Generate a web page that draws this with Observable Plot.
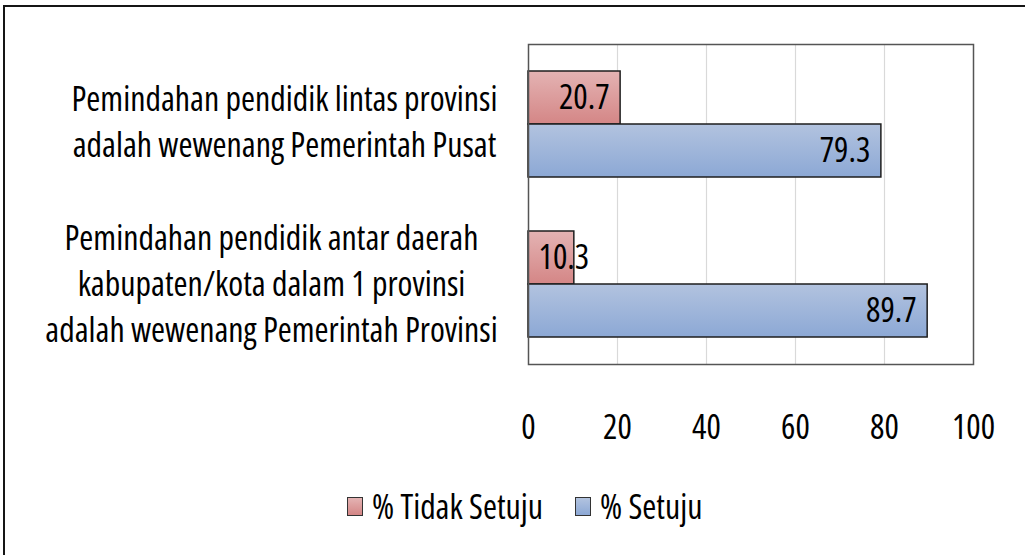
<!DOCTYPE html>
<html>
<head>
<meta charset="utf-8">
<script src="https://cdn.jsdelivr.net/npm/d3@7"></script>
<script src="https://cdn.jsdelivr.net/npm/@observablehq/plot@0.6"></script>
<style>
  html, body { margin: 0; padding: 0; background: #fff; }
  #wrap { position: relative; width: 1025px; height: 555px; overflow: hidden; background: #fff; }
  #border { position: absolute; left: 3px; top: 5px; width: 3000px; height: 3000px;
            border-left: 2px solid #151515; border-top: 2px solid #151515; }
  #chart { position: absolute; left: 0; top: 0; }
  #legend { position: absolute; top: 489px; left: 0; width: 1025px; height: 34px; }
  .item { position: absolute; top: 0; height: 34px; display: flex; align-items: center; color: #000; white-space: nowrap; }
  .sw { width: 16px; height: 19px; border: 1px solid #333; margin-right: 9px; box-sizing: border-box; flex: none; }
</style>
</head>
<body>
<svg width="0" height="0" style="position:absolute">
  <defs>
    <linearGradient id="gPink" x1="0" y1="0" x2="0" y2="1">
      <stop offset="0" stop-color="#E4B3B3"/>
      <stop offset="1" stop-color="#D48686"/>
    </linearGradient>
    <linearGradient id="gBlue" x1="0" y1="0" x2="0" y2="1">
      <stop offset="0" stop-color="#B2C3DF"/>
      <stop offset="1" stop-color="#8CA8D5"/>
    </linearGradient>
  </defs>
</svg>
<div id="wrap">
  <div id="border"></div>
  <div id="chart"></div>
  <div id="legend"></div>
</div>
<script>
const categories = [
  "Pemindahan pendidik lintas provinsi\nadalah wewenang Pemerintah Pusat",
  "Pemindahan pendidik antar daerah\nkabupaten/kota dalam 1 provinsi\nadalah wewenang Pemerintah Provinsi"
];
const series = ["% Tidak Setuju", "% Setuju"];
const tidakSetuju = [20.7, 10.3];
const setuju = [79.3, 89.7];
const xTicks = [0, 20, 40, 60, 80, 100];
const gridTicks = [20, 40, 60, 80];
const seriesFills = ["url(#gPink)", "url(#gBlue)"];

const data = [];
categories.forEach((c, i) => {
  data.push({category: c, series: series[0], value: tidakSetuju[i]});
  data.push({category: c, series: series[1], value: setuju[i]});
});
const fits = data.filter(d => d.value >= 15);
const small = data.filter(d => d.value < 15);

// pick a narrow font: Open Sans condensed if the installed face supports width, else Lato
const ctx = document.createElement("canvas").getContext("2d");
const sample = "Pemindahan pendidik lintas provinsi";
function measure(font, stretch) {
  ctx.font = font;
  try { ctx.fontStretch = stretch; } catch (e) {}
  return ctx.measureText(sample).width;
}
const wNormal = measure('32px "Open Sans"', "normal");
const wCond = measure('32px "Open Sans"', "condensed");
let FAMILY, STRETCH, w32;
if (wCond < 0.92 * wNormal) {
  FAMILY = '"Open Sans", sans-serif'; STRETCH = "condensed"; w32 = wCond;
} else {
  FAMILY = 'Lato, "Liberation Sans", sans-serif'; STRETCH = "normal"; w32 = measure("32px Lato", "normal");
}
const FS = Math.min(34, 32 * 426 / w32);
const LH = 46 / FS;

const chart = Plot.plot({
  width: 1025,
  height: 460,
  marginLeft: 528,
  marginRight: 52,
  marginTop: 43,
  marginBottom: 96,
  style: {fontFamily: FAMILY, fontStretch: STRETCH, fontSize: FS + "px", background: "transparent", color: "#000"},
  x: {domain: [0, 100], ticks: xTicks},
  y: {domain: series, paddingInner: 0, paddingOuter: 0.5, axis: null},
  fy: {domain: categories, padding: 0, axis: null},
  color: {domain: series, range: seriesFills},
  marks: [
    Plot.gridX(gridTicks, {stroke: "#d9d9d9", strokeOpacity: 1, strokeWidth: 1.2}),
    Plot.barX(data, {x: "value", y: "series", fy: "category", fill: "series", stroke: "#1e1e1e", strokeWidth: 1.5}),
    Plot.text(fits, {x: "value", y: "series", fy: "category", text: d => d.value.toFixed(1),
      textAnchor: "end", dx: -11, fontSize: FS, fill: "#000"}),
    Plot.text(small, {y: "series", fy: "category", text: d => d.value.toFixed(1),
      frameAnchor: "left", textAnchor: "start", dx: 10, fontSize: FS, fill: "#000"}),
    Plot.text([categories[0]], {fy: d => d, text: d => d, frameAnchor: "left", textAnchor: "middle",
      dx: -244, dy: -5, lineHeight: LH, fontSize: FS, fill: "#000"}),
    Plot.text([categories[1]], {fy: d => d, text: d => d, frameAnchor: "left", textAnchor: "middle",
      dx: -257, dy: -3, lineHeight: LH, fontSize: FS, fill: "#000"}),
    Plot.axisX({ticks: xTicks, tickSize: 0, tickPadding: 50, fontSize: FS, label: null, facetAnchor: "bottom"}),
    Plot.frame({facet: "super", stroke: "#555", strokeWidth: 1.5})
  ]
});
document.getElementById("chart").appendChild(chart);

// legend
const legend = document.getElementById("legend");
const lefts = [347, 575];
const grads = ["linear-gradient(#E4B3B3, #D48686)", "linear-gradient(#B2C3DF, #8CA8D5)"];
series.forEach((s, i) => {
  const item = document.createElement("div");
  item.className = "item";
  item.style.left = lefts[i] + "px";
  item.style.fontFamily = FAMILY;
  item.style.fontStretch = STRETCH;
  item.style.fontSize = FS + "px";
  const sw = document.createElement("div");
  sw.className = "sw";
  sw.style.background = grads[i];
  const t = document.createElement("span");
  t.textContent = s;
  item.appendChild(sw);
  item.appendChild(t);
  legend.appendChild(item);
});
</script>
</body>
</html>
